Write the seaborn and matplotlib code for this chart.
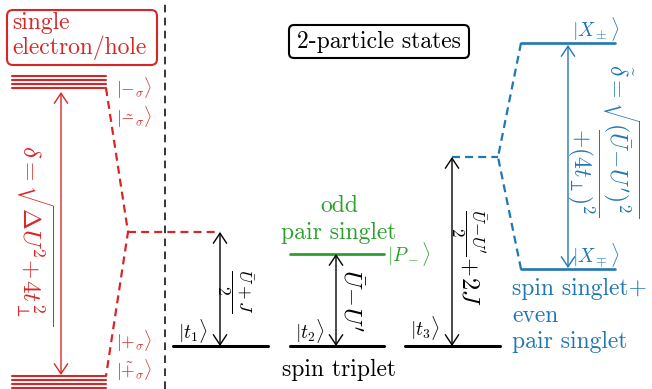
import matplotlib
matplotlib.use("Agg")
import matplotlib.pyplot as plt
from matplotlib.patches import FancyBboxPatch
import seaborn as sns
import pandas as pd

# ---------------- data (energies in diagram units, up = higher) -------------
red_upper = [313, 309, 305, 301]        # single-particle upper manifold
red_lower = [13, 9, 5, 1]               # single-particle lower manifold
red_mid = 157                           # unperturbed single-particle level
triplet_E = [43, 43, 43]                # |t1>, |t2>, |t3>
odd_singlet_E = 135                     # |P->
blue_mid = 232                          # unperturbed even singlet level
X_plus_E = 346                          # |X+->
X_minus_E = 120                         # |X-+>
triplet_labels = [r"$|t_1\rangle$", r"$|t_2\rangle$", r"$|t_3\rangle$"]

RED, GREEN, BLUE = "#d62728", "#2ca02c", "#1f77b4"

sns.set_theme(style="white")
plt.rcParams["font.family"] = ["serif"]
plt.rcParams["font.serif"] = ["cmr10", "DejaVu Serif"]
plt.rcParams["mathtext.fontset"] = "cm"
plt.rcParams["axes.unicode_minus"] = False

H = 389
def P(y):  # convert pixel row to data coordinate
    return H - y

fig = plt.figure(figsize=(6.52, 3.89), dpi=100)
ax = fig.add_axes([0, 0, 1, 1])

# ---------------- level lines via seaborn -----------------------------------
cols_trip = [(173, 268), (290, 384), (405, 500)]
rows = []
for i, E in enumerate(red_upper + red_lower):
    rows += [dict(lvl=f"r{i}", x=12, E=E), dict(lvl=f"r{i}", x=106, E=E)]
df_red = pd.DataFrame(rows)
rows = []
for i, (E, (a, b)) in enumerate(zip(triplet_E, cols_trip)):
    rows += [dict(lvl=f"t{i}", x=a, E=E), dict(lvl=f"t{i}", x=b, E=E)]
df_trip = pd.DataFrame(rows)
df_green = pd.DataFrame([dict(lvl="p", x=290, E=odd_singlet_E), dict(lvl="p", x=384, E=odd_singlet_E)])
df_blue = pd.DataFrame([dict(lvl="xp", x=521, E=X_plus_E), dict(lvl="xp", x=615, E=X_plus_E),
                        dict(lvl="xm", x=521, E=X_minus_E), dict(lvl="xm", x=615, E=X_minus_E)])

sns.lineplot(data=df_red, x="x", y="E", units="lvl", estimator=None, sort=False,
             color=RED, lw=1.5, ax=ax, legend=False)
sns.lineplot(data=df_trip, x="x", y="E", units="lvl", estimator=None, sort=False,
             color="black", lw=2.2, ax=ax, legend=False)
sns.lineplot(data=df_green, x="x", y="E", units="lvl", estimator=None, sort=False,
             color=GREEN, lw=2.0, ax=ax, legend=False)
sns.lineplot(data=df_blue, x="x", y="E", units="lvl", estimator=None, sort=False,
             color=BLUE, lw=1.9, ax=ax, legend=False)
ax.set_xlim(0, 652); ax.set_ylim(0, H); ax.axis("off")

# ---------------- dashed connectors -----------------------------------------
dash_r = (0, (3.6, 2.3))
ax.plot([106, 128, 106], [red_upper[-1], red_mid, red_lower[0]], color=RED, lw=1.6, ls=dash_r)
ax.plot([128, 220], [red_mid, red_mid], color=RED, lw=1.6, ls=dash_r)
ax.plot([521, 498, 521], [X_plus_E, blue_mid, X_minus_E], color=BLUE, lw=1.6, ls=dash_r)
ax.plot([452, 498], [blue_mid, blue_mid], color=BLUE, lw=1.6, ls=dash_r)
ax.plot([165, 165], [0, H], color="black", lw=1.1, ls=(0, (5, 3.5)))

# ---------------- arrows ----------------------------------------------------
def darrow(x, y0, y1, color):
    ax.annotate("", xy=(x, y0), xytext=(x, y1),
                arrowprops=dict(arrowstyle="<->,head_length=0.6,head_width=0.4",
                                color=color, lw=1.0, mutation_scale=12,
                                shrinkA=0, shrinkB=0))

darrow(61, red_upper[-1] - 4, red_lower[0] + 1, RED)
darrow(220, red_mid, triplet_E[0], "black")
darrow(336, odd_singlet_E, triplet_E[1], "black")
darrow(452, blue_mid, triplet_E[2], "black")
darrow(568, X_plus_E - 2, X_minus_E + 1, BLUE)

# ---------------- boxes -----------------------------------------------------
FS = 17
ax.add_patch(FancyBboxPatch((7, P(65)), 150, 55, boxstyle="round,pad=0,rounding_size=6",
                            ec=RED, fc="white", lw=1.5))
ax.text(12, P(29), "single", color=RED, fontsize=FS, ha="left", va="baseline")
ax.text(12, P(54), "electron/hole", color=RED, fontsize=FS, ha="left", va="baseline")
ax.add_patch(FancyBboxPatch((289, P(58)), 180, 33, boxstyle="round,pad=0,rounding_size=5",
                            ec="black", fc="white", lw=1.5))
ax.text(379, P(48), "2-particle states", color="black", fontsize=FS, ha="center", va="baseline")

# ---------------- labels ----------------------------------------------------
fs_ket = 14
fs_rket = 12.5
ax.text(116, P(88), r"$|{-}_\sigma\rangle$", color=RED, fontsize=fs_rket, ha="left", va="center")
ax.text(116, P(117), r"$|\tilde{-}_\sigma\rangle$", color=RED, fontsize=fs_rket, ha="left", va="center")
ax.text(116, P(341), r"$|{+}_\sigma\rangle$", color=RED, fontsize=fs_rket, ha="left", va="center")
ax.text(116, P(370), r"$|\tilde{+}_\sigma\rangle$", color=RED, fontsize=fs_rket, ha="left", va="center")
ax.text(35, P(235), r"$\delta=\sqrt{\Delta U^2\!+\!4t_\perp^2}$", color=RED, fontsize=18,
        rotation=-90, ha="center", va="center")

for lab, (a, b), y in zip(triplet_labels, cols_trip, [331, 331, 328]):
    ax.text(a + 5, P(y), lab, color="black", fontsize=fs_ket, ha="left", va="center")
ax.text(339, P(376), "spin triplet", color="black", fontsize=FS, ha="center", va="baseline")

ax.text(235, P(292), r"$\frac{\bar U+J}{2}$", color="black", fontsize=18,
        rotation=-90, ha="center", va="center")
ax.text(351, P(301), r"$\bar U\!-\!U^\prime$", color="black", fontsize=17.5,
        rotation=-90, ha="center", va="center")
ax.text(468, P(257), r"$\frac{\bar U\!-\!U^\prime}{2}\!+\!2J$", color="black", fontsize=17.5,
        rotation=-90, ha="center", va="center")

ax.text(339, P(212), "odd", color=GREEN, fontsize=FS, ha="center", va="baseline")
ax.text(339, P(239), "pair singlet", color=GREEN, fontsize=FS, ha="center", va="baseline")
ax.text(387, P(254), r"$|P_-\rangle$", color=GREEN, fontsize=fs_ket, ha="left", va="center")

ax.text(596, P(29), r"$|X_\pm\rangle$", color=BLUE, fontsize=fs_ket, ha="center", va="center")
ax.text(596, P(256), r"$|X_\mp\rangle$", color=BLUE, fontsize=fs_ket, ha="center", va="center")
ax.text(621, P(141), r"$\tilde\delta=\sqrt{(\bar U\!-\!U^\prime)^2}$", color=BLUE, fontsize=17,
        rotation=-90, ha="center", va="center")
ax.text(583, P(172), r"$\overline{+(4t_\perp)^2}$", color=BLUE, fontsize=17,
        rotation=-90, ha="center", va="center")
ax.text(512, P(295), "spin singlet+", color=BLUE, fontsize=FS, ha="left", va="baseline")
ax.text(512, P(322), "even", color=BLUE, fontsize=FS, ha="left", va="baseline")
ax.text(512, P(348), "pair singlet", color=BLUE, fontsize=FS, ha="left", va="baseline")

fig.savefig("out.png", dpi=100)
